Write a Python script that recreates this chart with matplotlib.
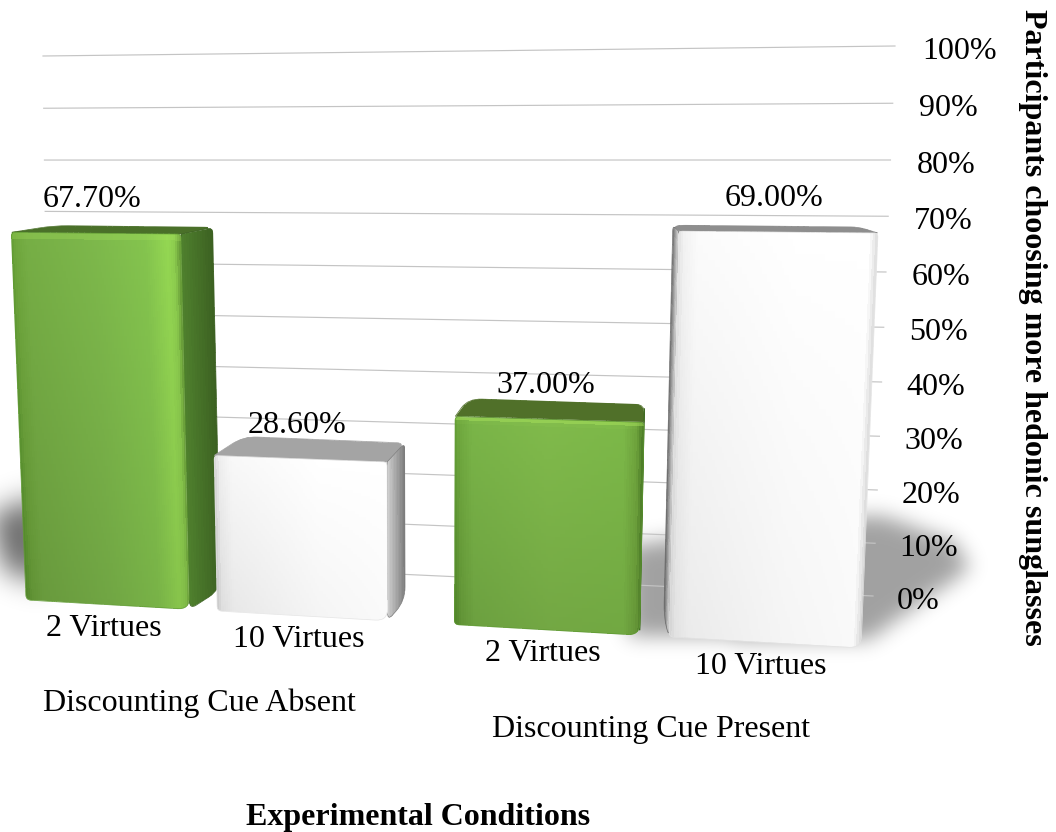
import numpy as np
import matplotlib
matplotlib.use("Agg")
import matplotlib.pyplot as plt
from matplotlib.colors import to_rgb
from matplotlib.patches import PathPatch
from matplotlib.path import Path

plt.rcParams['font.family'] = ['Liberation Serif', 'DejaVu Serif']

# data
conditions = ["Discounting Cue Absent", "Discounting Cue Present"]
bar_labels = ["2 Virtues", "10 Virtues", "2 Virtues", "10 Virtues"]
bar_condition = [0, 0, 1, 1]
values = [67.7, 28.6, 37.0, 69.0]
ticks = [0, 10, 20, 30, 40, 50, 60, 70, 80, 90, 100]
x_title = "Experimental Conditions"
y_title = "Participants choosing more hedonic sunglasses"

W, H = 1056, 832
font_size = 23.0

# slots of the bars across the front plane (0 = left end, 1 = right end)
slot_left = [0.0, 0.229, 0.513, 0.770]
slot_right = [0.196, 0.433, 0.735, 1.0]

# front plane of the bars, pixel corners at value 0 and at value 69
front_base = np.array([[26, 600], [861, 648]], dtype = float)
front_top = np.array([[11, 225], [878, 233]], dtype = float)
front_ref = 69.0

# back wall carrying the grid
wall_base = np.array([[50, 558], [873, 596]], dtype = float)
wall_top = np.array([[43, 56], [895, 46]], dtype = float)

green_stops = {
    0 : ([0, .03, .1, .5, .8, .93, .97, 1], ['#5f9a32', '#6ea63c', '#76ae45', '#7db84b', '#84c44e', '#94d752', '#8ccc4e', '#6a9f3a']),
    2 : ([0, .03, .1, .5, .9, .97, 1], ['#5f9a32', '#6fa83e', '#7ab548', '#80ba4b', '#7cb848', '#6ea33c', '#4f8029']),
}
white_stops = {
    1 : ([0, .03, .1, .6, 1], ['#d5d5d5', '#eeeeee', '#f8f8f8', '#ffffff', '#ffffff']),
    3 : ([0, .03, .1, .6, .96, 1], ['#e2e2e2', '#f2f2f2', '#fbfbfb', '#ffffff', '#ffffff', '#dcdcdc']),
}
top_colors = ['#4a7029', '#a4a4a4', '#507029', '#8e8e8e']
side_colors = [('#4f802d', '#3c6122'), ('#d0d0d0', '#7c7c7c'), ('#4f8029', '#3f6a22'), ('#e0e0e0', '#6c6c6c')]


def front_point(u, v) :
    # slightly curved value scale, the plane leans towards the viewer
    t = v / front_ref
    t = t * (0.96 + 0.04 * t)
    bottom = front_base[0] + (front_base[1] - front_base[0]) * np.asarray(u)[..., None]
    top = front_top[0] + (front_top[1] - front_top[0]) * np.asarray(u)[..., None]
    return bottom + (top - bottom) * np.asarray(t)[..., None]


def project(u, v, depth = 0.0) :
    # depth runs from the front face (0) to the back of the bar (1)
    u, v, depth = np.broadcast_arrays(np.asarray(u, dtype = float), np.asarray(v, dtype = float), np.asarray(depth, dtype = float))
    p = front_point(u, v)
    x = p[..., 0] + depth * (0.068 * (645 - p[..., 0]) - 3.5 * (p[..., 0] > 660))
    y = p[..., 1] - depth * (20 - 14 * (v / front_ref) ** 3)
    return x, y


def wall_point(u, v) :
    t = v * (5.25 + 0.0025 * v) / 550.0
    bottom = wall_base[0] + (wall_base[1] - wall_base[0]) * u
    top = wall_top[0] + (wall_top[1] - wall_top[0]) * u
    return bottom + (top - bottom) * t


def rounded_path(points, radii) :
    points = np.asarray(points, dtype = float)
    n = len(points)
    verts, codes = [], []
    for i in range(n) :
        p = points[i]
        a = points[i - 1] - p
        b = points[(i + 1) % n] - p
        r = radii[i]
        p0 = p + a / np.linalg.norm(a) * min(r, np.linalg.norm(a) / 2)
        p1 = p + b / np.linalg.norm(b) * min(r, np.linalg.norm(b) / 2)
        verts.append(p0)
        codes.append(Path.MOVETO if i == 0 else Path.LINETO)
        verts += [p, p1]
        codes += [Path.CURVE3, Path.CURVE3]
    verts.append(verts[0])
    codes.append(Path.CLOSEPOLY)
    return Path(np.array(verts), codes)


def ramp(stops, colors, s) :
    rgb = np.array([to_rgb(c) for c in colors])
    return np.stack([np.interp(s, stops, rgb[:, k]) for k in range(3)], axis = -1)


def draw_mesh(ax, X, Y, C, outline, edge, zorder) :
    patch = PathPatch(outline, facecolor = 'none', edgecolor = edge, linewidth = 0.5, zorder = zorder + 0.1, transform = ax.transData)
    ax.add_patch(patch)
    mesh = ax.pcolormesh(X, Y, C, shading = 'flat', antialiased = False, linewidth = 0, zorder = zorder)
    mesh.set_clip_path(patch)


def draw_shadow(ax, polygon, sigma, alpha) :
    step = 4
    xs = np.arange(-80, W + 80, step) + step / 2
    ys = np.arange(0, H, step) + step / 2
    gx, gy = np.meshgrid(xs, ys)
    mask = Path(polygon).contains_points(np.column_stack([gx.ravel(), gy.ravel()])).reshape(gx.shape).astype(float)
    radius = int(3 * sigma / step)
    kernel = np.exp(-0.5 * (np.arange(-radius, radius + 1) * step / sigma) ** 2)
    kernel /= kernel.sum()
    mask = np.apply_along_axis(lambda r : np.convolve(r, kernel, mode = 'same'), 0, mask)
    mask = np.apply_along_axis(lambda r : np.convolve(r, kernel, mode = 'same'), 1, mask)
    rgba = np.zeros(mask.shape + (4,))
    rgba[..., 3] = mask * alpha
    ax.imshow(rgba, extent = (-80, W + 80, H, 0), interpolation = 'bilinear', zorder = 1, aspect = 'auto')


def draw_bar(ax, i, value) :
    u0, u1 = slot_left[i], slot_right[i]
    z = 3 + i
    edge_front = '#5f9a32' if i in green_stops else '#e4e4e4'

    # top face
    xa, ya = project([u0, u1, u1, u0], value, [0, 0, 1, 1])
    top_poly = np.column_stack([xa, ya])
    top_dark = np.array(to_rgb(top_colors[i]))
    m_s, m_d = np.meshgrid(np.linspace(0, 1, 31), np.linspace(0, 1, 9))
    X, Y = project(u0 + (u1 - u0) * m_s, value, m_d)
    C = np.tile(top_dark, (8, 30, 1))
    draw_mesh(ax, X, Y, C, rounded_path(top_poly, [1, 1, 8, 14]), top_colors[i], z)

    # side face, only when it turns towards the viewer
    vv = np.linspace(0, value, 41)
    dd = np.linspace(0, 1, 13)
    m_d, m_v = np.meshgrid(dd, vv)
    x_front, _ = project(u1, value, 0)
    x_back, _ = project(u1, value, 1)
    side_u = u1 if x_back > x_front else u0
    X, Y = project(side_u, m_v, m_d)
    near, far = side_colors[i]
    C = ramp([0, 1], [near, far], (m_d[:-1, :-1] + m_d[1:, 1:]) / 2)
    xs, ys = project([side_u, side_u, side_u, side_u], [0, value, value, 0], [0, 0, 1, 1])
    draw_mesh(ax, X, Y, C, rounded_path(np.column_stack([xs, ys]), [8, 1, 6, 14]), far, z + 0.2)

    # front face
    n_s, n_t = 80, 60
    s = np.linspace(0, 1, n_s + 1)
    t = np.linspace(0, 1, n_t + 1)
    m_s, m_t = np.meshgrid(s, t)
    X, Y = project(u0 + (u1 - u0) * m_s, value * m_t)
    cs = (m_s[:-1, :-1] + m_s[1:, 1:]) / 2
    ct = (m_t[:-1, :-1] + m_t[1:, 1:]) / 2
    if i in green_stops :
        stops, colors = green_stops[i]
        # diagonal bands, darker towards the floor
        C = ramp(stops, colors, np.clip(cs + 0.02 * (ct - 0.5), 0, 1))
        C = C * (1 - 0.12 * (1 - ct[..., None]) * (1 - 0.3 * cs[..., None]))
        lit = np.clip((ct - (1 - 7.0 / (value * 5.6))) / (7.0 / (value * 5.6)), 0, 1)[..., None]
        C = C + (np.array(to_rgb('#a8e25c')) - C) * lit ** 2 * 0.9
    else :
        stops, colors = white_stops[i]
        C = ramp(stops, colors, cs)
        C = C * (1 - 0.07 * (1 - ct[..., None]) * (1 - 0.7 * cs[..., None]))
    xf, yf = project([u0, u0, u1, u1], [0, value, value, 0])
    outline = rounded_path(np.column_stack([xf, yf]), [5, 4, 4, 12])
    draw_mesh(ax, X, Y, np.clip(C, 0, 1), outline, edge_front, z + 0.4)


fig = plt.figure(figsize = (W / 100, H / 100), dpi = 100)
ax = fig.add_axes([0, 0, 1, 1])
ax.set_axis_off()

# soft floor shadows
draw_shadow(ax, [(-10, 515), (45, 495), (45, 585), (5, 570)], 14, 0.6)
draw_shadow(ax, [(630, 545), (880, 515), (955, 542), (970, 568), (865, 642), (630, 635)], 10, 0.37)

# grid and tick labels on the back wall
for v in ticks :
    left = wall_point(0.0, v)
    right = wall_point(1.0, v)
    ax.plot([left[0], right[0]], [left[1], right[1]], color = '#c4c4c4', linewidth = 0.85, zorder = 2)
    ax.text(right[0] + 24 + 0.03 * v, right[1] + 5.5, str(v) + "%", ha = 'left', va = 'center', fontsize = font_size, zorder = 20)

for i, value in enumerate(values) :
    draw_bar(ax, i, value)
    mid = (slot_left[i] + slot_right[i]) / 2
    x_top, y_top = project(mid, value)
    ax.text(x_top - 4, y_top - 33.5, "%.2f%%" % value, ha = 'center', va = 'center', fontsize = font_size, zorder = 20)
    x_base, y_base = project(mid, 0.0)
    ax.text(x_base - 4, y_base + 24, bar_labels[i], ha = 'center', va = 'center', fontsize = font_size, zorder = 20)

for k, name in enumerate(conditions) :
    members = [i for i in range(len(values)) if bar_condition[i] == k]
    mid = (slot_left[members[0]] + slot_right[members[-1]]) / 2
    x_base, y_base = project(mid, 0.0)
    ax.text(x_base - 7, y_base + 93, name, ha = 'center', va = 'center', fontsize = font_size, zorder = 20)

ax.text(418, 817, x_title, ha = 'center', va = 'center', fontsize = font_size, weight = 'bold')
ax.text(1033, 327, y_title, ha = 'center', va = 'center', rotation = -90, fontsize = font_size, weight = 'bold')

ax.set_xlim(0, W)
ax.set_ylim(H, 0)

plt.savefig("out.png", dpi = 100)
